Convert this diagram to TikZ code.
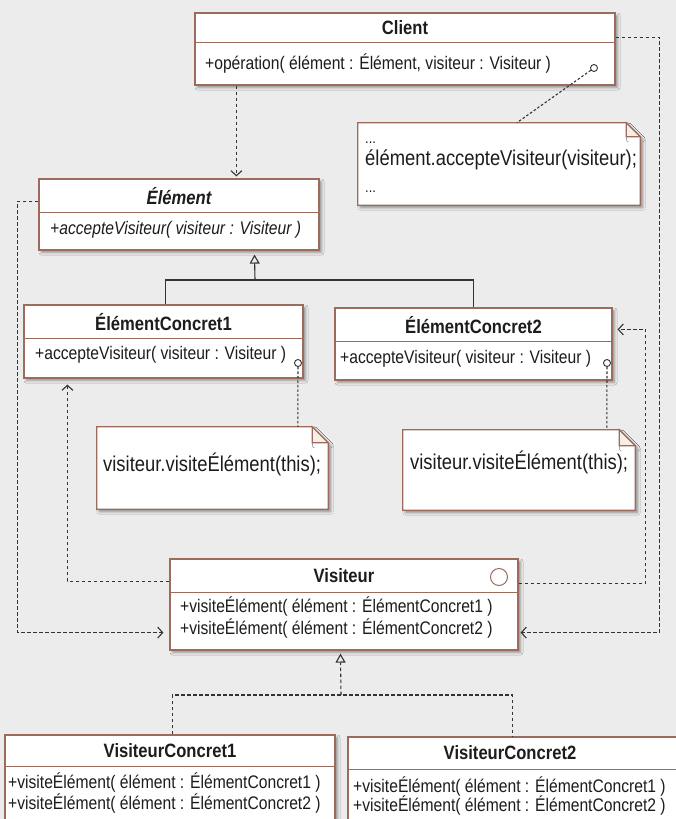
\documentclass[tikz,border=0pt]{standalone}
\usepackage{fontspec}
\setmainfont[FakeStretch=0.86]{Liberation Sans}
\usetikzlibrary{arrows.meta,shadows.blur}

\definecolor{bgcol}{HTML}{ECECEC}
\definecolor{boxline}{HTML}{9C6B5E}
\definecolor{linecol}{HTML}{333333}
\definecolor{txt}{HTML}{1C1C1C}
\definecolor{foldcol}{HTML}{F7EFE6}

% outline of a UML note with a folded top-right corner
\newcommand\umlnote[2]{%
  \draw[noteshape] (#1.north west) -- ([xshift=-#2]#1.north east)
    -- ([yshift=-#2]#1.north east) -- (#1.south east) -- (#1.south west) -- cycle;
  \draw[noteshape, fill=foldcol, blur shadow={shadow opacity=0}] ([xshift=-#2]#1.north east)
    -- ([xshift=-#2,yshift=-#2]#1.north east) -- ([yshift=-#2]#1.north east) -- cycle;}

\begin{document}
\begin{tikzpicture}[x=1pt,y=-1pt,
  shade/.style={blur shadow={shadow xshift=2.5pt, shadow yshift=-2.5pt,
      shadow blur radius=2.5pt, shadow opacity=40}},
  classbox/.style={draw=boxline, line width=1.2pt, fill=white, inner sep=0pt, shade},
  noteshape/.style={draw=boxline, line width=1.2pt, fill=white, shade},
  notebox/.style={inner sep=0pt},
  hdr/.style={font=\fontsize{19.3}{21}\selectfont\bfseries, text=txt, inner sep=0pt},
  meth/.style={font=\fontsize{18.2}{20}\selectfont, text=txt, inner sep=0pt, anchor=mid west},
  notetxt/.style={font=\fontsize{21.4}{23}\selectfont, text=txt, inner sep=0pt, anchor=mid west},
  sepline/.style={draw=boxline, line width=1.1pt},
  port/.style={circle, draw=linecol, line width=0.9pt, inner sep=0pt, minimum size=7pt},
  dep/.style={draw=linecol, line width=1.1pt, dash pattern=on 3.5pt off 2.5pt,
      -{Straight Barb[length=5pt,width=11pt]}},
  notelink/.style={draw=linecol, line width=1.1pt, dash pattern=on 2.5pt off 2pt},
  gen/.style={draw=linecol, line width=1.1pt},
  real/.style={draw=linecol, line width=1.1pt, dash pattern=on 3.5pt off 2.5pt},
  hollow/.style={-{Triangle[open,length=9pt,width=10pt]}}
]
\path[use as bounding box, fill=bgcol] (0,0) rectangle (676,819);
\clip (0,0) rectangle (676,819);

% ---------- class Client ----------
\node[classbox, minimum width=420pt, minimum height=72pt] (client) at (405,49) {};
\draw[sepline] ([yshift=-30pt]client.north west) -- ([yshift=-30pt]client.north east);
\node[hdr] (client-name) at (405,28) {Client};
\node[meth] (client-op) at (205,67) {+opération( élément : Élément, visiteur : Visiteur )};
\node[port] (p0) at (594,68) {};

% ---------- note of Client ----------
\node[notebox, minimum width=282pt, minimum height=82pt] (note0) at (499,164) {};
\umlnote{note0}{14pt}
\node[notetxt, font=\fontsize{15}{17}\selectfont] (note0-a) at (365,141) {...};
\node[notetxt] (note0-b) at (365,163) {élément.accepteVisiteur(visiteur);};
\node[notetxt, font=\fontsize{15}{17}\selectfont] (note0-c) at (365,190) {...};

% ---------- abstract class Élément ----------
\node[classbox, minimum width=280pt, minimum height=71pt] (element) at (179,214.5) {};
\draw[sepline] ([yshift=-34pt]element.north west) -- ([yshift=-34pt]element.north east);
\node[hdr, font=\fontsize{19.3}{21}\selectfont\bfseries\itshape] (element-name) at (179,196) {Élément};
\node[meth, font=\fontsize{18.2}{20}\selectfont\itshape] (element-op) at (50,232) {+accepteVisiteur( visiteur : Visiteur )};

% ---------- ÉlémentConcret1 ----------
\node[classbox, minimum width=279pt, minimum height=73pt] (ec1) at (163.5,341.5) {};
\draw[sepline] ([yshift=-34pt]ec1.north west) -- ([yshift=-34pt]ec1.north east);
\node[hdr] (ec1-name) at (163.5,322) {ÉlémentConcret1};
\node[meth] (ec1-op) at (35,357) {+accepteVisiteur( visiteur : Visiteur )};
\node[port] (p1) at (298,363) {};

% ---------- ÉlémentConcret2 ----------
\node[classbox, minimum width=277pt, minimum height=72pt] (ec2) at (473.5,344) {};
\draw[sepline] ([yshift=-34pt]ec2.north west) -- ([yshift=-34pt]ec2.north east);
\node[hdr] (ec2-name) at (473.5,325) {ÉlémentConcret2};
\node[meth] (ec2-op) at (340,361) {+accepteVisiteur( visiteur : Visiteur )};
\node[port] (p2) at (607,363) {};

% ---------- notes of the concrete elements ----------
\node[notebox, minimum width=231pt, minimum height=82pt] (note1) at (212.5,468) {};
\umlnote{note1}{16pt}
\node[notetxt] (note1-a) at (103,469) {visiteur.visiteÉlément(this);};

\node[notebox, minimum width=232pt, minimum height=80pt] (note2) at (519,470) {};
\umlnote{note2}{16pt}
\node[notetxt] (note2-a) at (410,467) {visiteur.visiteÉlément(this);};

% ---------- interface Visiteur ----------
\node[classbox, minimum width=348pt, minimum height=91pt] (visiteur) at (344,604.5) {};
\draw[sepline] ([yshift=-34pt]visiteur.north west) -- ([yshift=-34pt]visiteur.north east);
\node[hdr] (visiteur-name) at (344,576) {Visiteur};
\node[circle, draw=boxline, line width=1pt, minimum size=17pt, inner sep=0pt] (visiteur-icon) at (499,577) {};
\node[meth] (visiteur-op1) at (180,610) {+visiteÉlément( élément : ÉlémentConcret1 )};
\node[meth] (visiteur-op2) at (180,632) {+visiteÉlément( élément : ÉlémentConcret2 )};

% ---------- VisiteurConcret1 ----------
\node[classbox, minimum width=330pt, minimum height=115pt] (vc1) at (170,792.5) {};
\draw[sepline] ([yshift=-32pt]vc1.north west) -- ([yshift=-32pt]vc1.north east);
\node[hdr] (vc1-name) at (170,751) {VisiteurConcret1};
\node[meth] (vc1-op1) at (8,786) {+visiteÉlément( élément : ÉlémentConcret1 )};
\node[meth] (vc1-op2) at (8,807) {+visiteÉlément( élément : ÉlémentConcret2 )};

% ---------- VisiteurConcret2 ----------
\node[classbox, minimum width=352pt, minimum height=113pt] (vc2) at (524,793.5) {};
\draw[sepline] ([yshift=-33pt]vc2.north west) -- ([yshift=-33pt]vc2.north east);
\node[hdr] (vc2-name) at (510,753) {VisiteurConcret2};
\node[meth] (vc2-op1) at (353,790) {+visiteÉlément( élément : ÉlémentConcret1 )};
\node[meth] (vc2-op2) at (353,809) {+visiteÉlément( élément : ÉlémentConcret2 )};

% ---------- dependencies ----------
\draw[dep, shorten >=2pt] ([xshift=42pt]client.south west) -- ([xshift=198pt]element.north west);
\draw[dep, shorten >=6pt] ([yshift=-23pt]element.north west) -- ++(-21,0)
  |- ([yshift=18pt]visiteur.south west);
\draw[dep, shorten >=2pt] ([yshift=-25pt]client.north east) -- ++(44,0)
  |- ([yshift=18pt]visiteur.south east);
\draw[dep, shorten >=6pt] ([yshift=-23pt]visiteur.north west) -| ([xshift=44pt]ec1.south west);
\draw[dep, shorten >=5pt] ([yshift=-25pt]visiteur.north east) -- ++(127,0)
  |- ([yshift=-22pt]ec2.north east);

% ---------- note attachments ----------
\draw[notelink] (p0) -- ([xshift=159pt]note0.north west);
\draw[notelink] (p1) -- ([xshift=201pt]note1.north west);
\draw[notelink] (p2) -- ([xshift=204pt]note2.north west);

% ---------- inheritance of Élément ----------
\coordinate (gj) at (255,280);
\draw[gen] ([xshift=142pt]ec1.north west) |- (gj) -| (ec2.north);
\draw[gen, hollow, shorten >=4pt] (gj) -- ([xshift=216pt]element.south west);

% ---------- realisation of Visiteur ----------
\coordinate (rj) at (341,695);
\draw[real] ([xshift=168pt]vc1.north west) |- (rj) -| ([xshift=165pt]vc2.north west);
\draw[real, hollow, shorten >=3pt] (rj) -- ([xshift=171pt]visiteur.south west);
\end{tikzpicture}
\end{document}
